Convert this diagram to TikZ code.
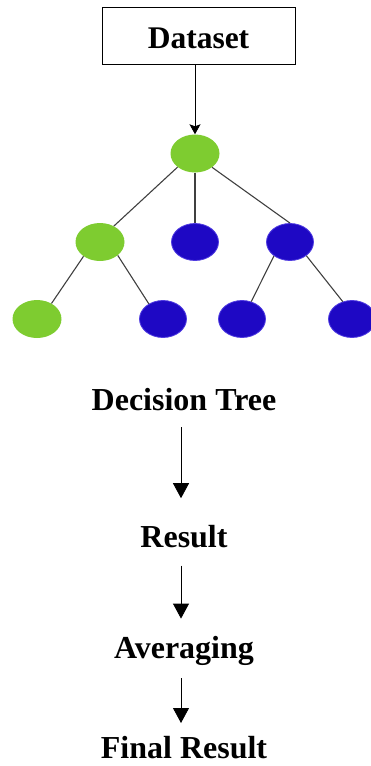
\documentclass[tikz,border=0pt]{standalone}
\usepackage{fontspec}
\setmainfont{Liberation Serif}
\usetikzlibrary{arrows.meta, positioning, shapes.geometric}
\definecolor{leafgreen}{RGB}{126,204,48}
\definecolor{leafblue}{RGB}{30,8,196}
\definecolor{leafrim}{RGB}{80,60,225}

\begin{document}
\begin{tikzpicture}[x=1pt, y=-1pt,
    title/.style={font=\fontsize{32}{36}\selectfont\bfseries, inner sep=0pt, text height=22pt, text depth=7pt},
    green node/.style={ellipse, fill=leafgreen, minimum width=49pt, minimum height=38pt, inner sep=0pt},
    blue node/.style={ellipse, fill=leafblue, draw=leafrim, line width=0.8pt, minimum width=47pt, minimum height=37pt, inner sep=0pt},
    branch/.style={draw=black!75, line width=1.1pt},
    flow/.style={-{Triangle[width=16pt,length=15pt]}, line width=0.8pt},
    ]
\useasboundingbox (0,0) rectangle (371,766);

% Input box
\node[draw, line width=0.8pt, minimum width=193pt, minimum height=57pt, inner sep=0pt,
    font=\fontsize{31.5}{36}\selectfont\bfseries, text height=26pt, text depth=0pt] (data) at (198.5,35.5) {Dataset};

% Decision tree
\node[green node] (root) at (195,153.5) {};
\node[green node] (g2) at (100,242) {};
\node[blue node] (b2m) at (195,242) {};
\node[blue node] (b2r) at (290,242) {};
\node[green node] (g3) at (37,319) {};
\node[blue node] (b3a) at (163,319) {};
\node[blue node] (b3b) at (242,319) {};
\node[blue node] (b3c) at (352,319) {};

\draw[-{Stealth[length=10pt,width=11pt,inset=2pt]}, line width=0.9pt] (data.south -| root) -- (root.north);
\draw[branch] (root.218) -- (g2.49);
\draw[branch] (root.south) -- (b2m.north);
\draw[branch] (root.321) -- (b2r.north);
\draw[branch] (g2.221) -- (g3.47);
\draw[branch] (g2.323) -- (b3a.133);
\draw[branch] (b2r.221) -- (b3b.62);
\draw[branch] (b2r.320) -- (b3c.118);

% Pipeline below the tree
\node[title, anchor=base] (dtree) at (184,410) {Decision Tree};
\node[title, below=108pt of dtree] (result) {Result};
\node[title, below=82pt of result] (avg) {Averaging};
\node[title, text depth=0pt, below=70pt of avg] (final) {Final Result};

\draw[flow, shorten <=10pt, shorten >=27pt] ([xshift=-3pt]dtree.south) -- ([xshift=-3pt]result.north);
\draw[flow, shorten <=11pt, shorten >=18pt] ([xshift=-3pt]result.south) -- ([xshift=-3pt]avg.north);
\draw[flow, shorten <=12pt, shorten >=13pt] ([xshift=-3pt]avg.south) -- ([xshift=-3pt]final.north);
\end{tikzpicture}
\end{document}
